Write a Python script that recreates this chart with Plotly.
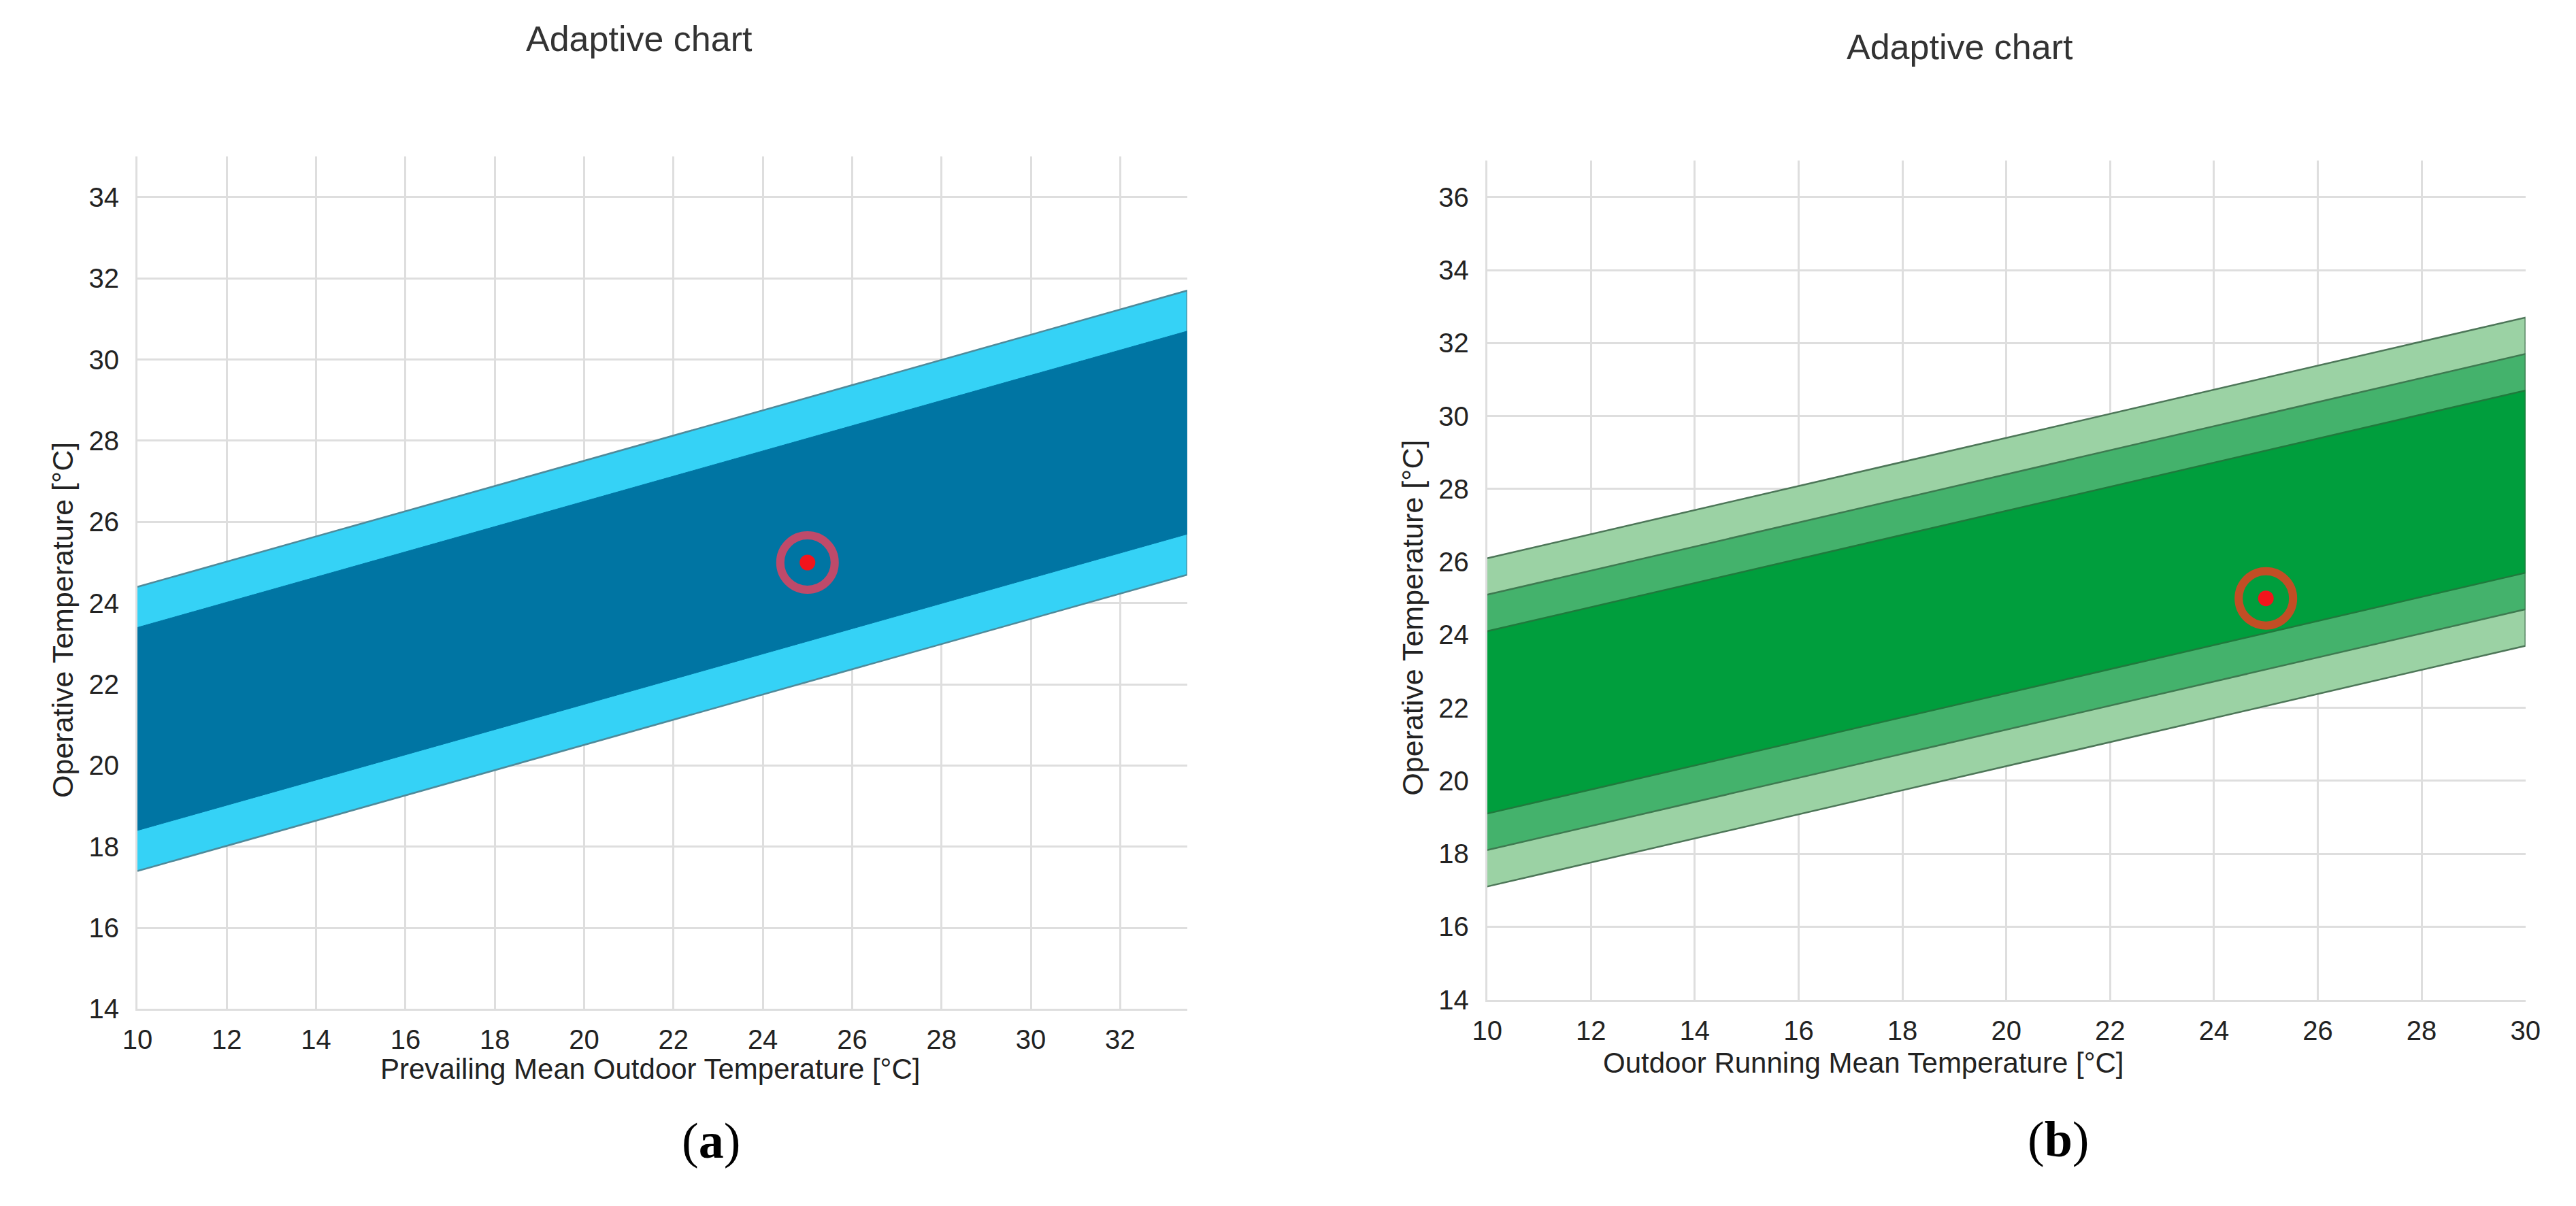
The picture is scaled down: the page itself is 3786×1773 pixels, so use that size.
import plotly.graph_objects as go

# ---- data ----
# (a) ASHRAE 55 adaptive model, prevailing mean outdoor temperature
ashrae_x = [10, 33.5]
ashrae_80_lower = [17.4, 24.7]
ashrae_80_upper = [24.4, 31.7]
ashrae_90_lower = [18.4, 25.7]
ashrae_90_upper = [23.4, 30.7]

# (b) EN 16798 adaptive model, outdoor running mean temperature
en_x = [10, 30]
en_cat3_lower = [17.1, 23.7]
en_cat3_upper = [26.1, 32.7]
en_cat2_lower = [18.1, 24.7]
en_cat2_upper = [25.1, 31.7]
en_cat1_lower = [19.1, 25.7]
en_cat1_upper = [24.1, 30.7]

# current condition point
point_x = [25]
point_y = [25]

left_xticks = list(range(10, 34, 2))
left_yticks = list(range(14, 36, 2))
right_xticks = list(range(10, 32, 2))
right_yticks = list(range(14, 38, 2))

W, H = 3786, 1773
FONT = "Liberation Sans, Arial, sans-serif"
SERIF = "Liberation Serif, Times New Roman, serif"


def band(x, lower, upper, fill, line_col, line_w, xaxis, yaxis):
    # closed polygon: upper edge left->right, lower edge right->left
    return go.Scatter(
        x=list(x) + list(x)[::-1],
        y=list(upper) + list(lower)[::-1],
        fill="toself", fillcolor=fill, mode="lines",
        line=dict(color=line_col, width=line_w),
        xaxis=xaxis, yaxis=yaxis, hoverinfo="skip", showlegend=False,
    )


def target(x, y, ring_col, xaxis, yaxis):
    # open symbols take their stroke colour from marker.color
    ring = go.Scatter(
        x=x, y=y, mode="markers", xaxis=xaxis, yaxis=yaxis, showlegend=False,
        marker=dict(symbol="circle-open", size=80, color=ring_col, line=dict(width=12)),
    )
    dot = go.Scatter(
        x=x, y=y, mode="markers", xaxis=xaxis, yaxis=yaxis, showlegend=False,
        marker=dict(symbol="circle", size=23, color="#f2141c", line=dict(width=0)),
    )
    return [ring, dot]


fig = go.Figure()

# left chart
fig.add_trace(band(ashrae_x, ashrae_80_lower, ashrae_80_upper, "#35d2f6", "#4f8a9a", 2.5, "x", "y"))
fig.add_trace(band(ashrae_x, ashrae_90_lower, ashrae_90_upper, "#0075a3", "#0075a3", 1, "x", "y"))
for t in target(point_x, point_y, "rgba(212,70,100,0.9)", "x", "y"):
    fig.add_trace(t)

# right chart
fig.add_trace(band(en_x, en_cat3_lower, en_cat3_upper, "#9bd2a4", "#4d7658", 2.5, "x2", "y2"))
fig.add_trace(band(en_x, en_cat2_lower, en_cat2_upper, "#44b26c", "#3e7a50", 2.5, "x2", "y2"))
fig.add_trace(band(en_x, en_cat1_lower, en_cat1_upper, "#009e3d", "#1f7a3c", 2.5, "x2", "y2"))
for t in target(point_x, point_y, "rgba(210,72,35,0.92)", "x2", "y2"):
    fig.add_trace(t)

grid = "#dedede"
tickfont = dict(family=FONT, size=40, color="#222222")
common_x = dict(showgrid=True, gridcolor=grid, gridwidth=3, showline=True, linecolor=grid,
                linewidth=3, ticks="", tickfont=tickfont, ticklabelstandoff=8, zeroline=False,
                fixedrange=True)
common_y = dict(showgrid=True, gridcolor=grid, gridwidth=3, showline=True, linecolor=grid,
                linewidth=3, ticks="", tickfont=tickfont, ticklabelstandoff=16, zeroline=False,
                fixedrange=True)

fig.update_layout(
    width=W, height=H,
    margin=dict(l=0, r=0, t=0, b=0),
    paper_bgcolor="white", plot_bgcolor="white",
    showlegend=False,
    font=dict(family=FONT, color="#222222"),
    xaxis=dict(domain=[174 / W, 1735 / W], range=[10, 33.5], tickvals=left_xticks, anchor="y", **common_x),
    yaxis=dict(domain=[(H - 1494) / H, (H - 225) / H], range=[14, 35], tickvals=left_yticks, anchor="x", **common_y),
    xaxis2=dict(domain=[2181 / W, 3725 / W], range=[10, 30], tickvals=right_xticks, anchor="y2", **common_x),
    yaxis2=dict(domain=[(H - 1480) / H, (H - 231) / H], range=[14, 37], tickvals=right_yticks, anchor="x2", **common_y),
)

annots = [
    # chart titles
    dict(text="Adaptive chart", x=920 / W, y=(H - 50) / H, size=52, angle=0, fam=FONT, col="#333333"),
    dict(text="Adaptive chart", x=2884 / W, y=(H - 62) / H, size=52, angle=0, fam=FONT, col="#333333"),
    # axis titles
    dict(text="Operative Temperature [°C]", x=62 / W, y=(H - 915) / H, size=43, angle=-90, fam=FONT, col="#222222"),
    dict(text="Operative Temperature [°C]", x=2070 / W, y=(H - 911) / H, size=43, angle=-90, fam=FONT, col="#222222"),
    dict(text="Prevailing Mean Outdoor Temperature [°C]", x=936 / W, y=(H - 1583) / H, size=42, angle=0, fam=FONT, col="#222222"),
    dict(text="Outdoor Running Mean Temperature [°C]", x=2740 / W, y=(H - 1574) / H, size=42, angle=0, fam=FONT, col="#222222"),
    # panel labels
    dict(text="(<b>a</b>)", x=1027 / W, y=(H - 1690) / H, size=74, angle=0, fam=SERIF, col="#000000"),
    dict(text="(<b>b</b>)", x=3030 / W, y=(H - 1688) / H, size=74, angle=0, fam=SERIF, col="#000000"),
]
for a in annots:
    fig.add_annotation(
        text=a["text"], x=a["x"], y=a["y"], xref="paper", yref="paper",
        xanchor="center", yanchor="middle", showarrow=False, textangle=a["angle"],
        font=dict(family=a["fam"], size=a["size"], color=a["col"]),
    )

fig.write_html("out.html", config={"displayModeBar": False})
